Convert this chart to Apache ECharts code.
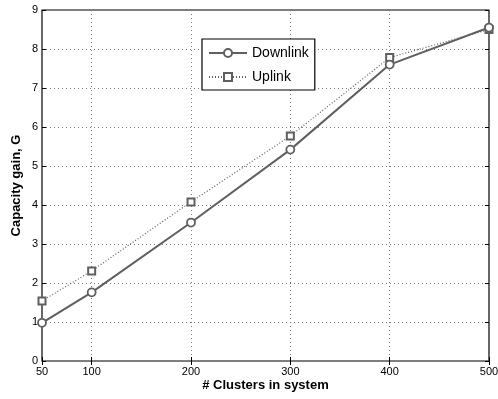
<!DOCTYPE html>
<html>
<head>
<meta charset="utf-8">
<script src="https://cdn.jsdelivr.net/npm/echarts@6/dist/echarts.min.js"></script>
<style>
  html, body { margin: 0; padding: 0; background: #fff; }
  #chart { width: 498px; height: 399px; }
</style>
</head>
<body>
<div id="chart"></div>
<script>
// data
var clusters = [50, 100, 200, 300, 400, 500];
var downlink = [0.98, 1.76, 3.55, 5.42, 7.6, 8.55];
var uplink = [1.54, 2.31, 4.08, 5.77, 7.78, 8.5];
var xTicks = [50, 100, 200, 300, 400, 500];

var chart = echarts.init(document.getElementById('chart'));
var gray = '#5f5f5f';
var font = 'Liberation Sans, Arial, sans-serif';

function pairs(xs, ys) {
  var out = [];
  for (var i = 0; i < xs.length; i++) out.push([xs[i], ys[i]]);
  return out;
}

var option = {
  animation: false,
  grid: {
    left: 42, right: 9, top: 10, bottom: 38,
    outerBoundsMode: 'none',
    containLabel: false,
    show: true, borderColor: '#000', borderWidth: 1.2,
    backgroundColor: 'transparent'
  },
  legend: {
    left: 202, top: 39,
    orient: 'vertical',
    padding: [7, 6, 6, 6],
    itemGap: 10,
    itemWidth: 38, itemHeight: 10,
    backgroundColor: '#fff',
    borderColor: '#000', borderWidth: 1.2,
    textStyle: { fontFamily: font, fontSize: 14, color: '#000' },
    data: ['Downlink', 'Uplink']
  },
  xAxis: [{
    type: 'value', min: 50, max: 500,
    name: '# Clusters in system', nameLocation: 'middle', nameGap: 18,
    nameMoveOverlap: false,
    nameTextStyle: { fontFamily: font, fontSize: 13, fontWeight: 'bold', color: '#000' },
    axisLine: { show: false },
    axisTick: { show: true, inside: true, length: 4, customValues: xTicks, lineStyle: { color: '#000' } },
    axisLabel: { customValues: xTicks, fontFamily: font, fontSize: 11, color: '#000', margin: 5 },
    splitLine: { show: true, lineStyle: { color: '#777', type: [1, 3], width: 1 } }
  }, {
    type: 'value', min: 50, max: 500, position: 'top',
    axisLine: { show: false },
    axisTick: { show: true, inside: true, length: 4, customValues: xTicks, lineStyle: { color: '#000' } },
    axisLabel: { show: false },
    splitLine: { show: false }
  }],
  yAxis: [{
    type: 'value', min: 0, max: 9, interval: 1,
    name: 'Capacity gain, G', nameLocation: 'middle', nameGap: 19,
    nameMoveOverlap: false,
    nameTextStyle: { fontFamily: font, fontSize: 13, fontWeight: 'bold', color: '#000' },
    axisLine: { show: false },
    axisTick: { show: true, inside: true, length: 4, lineStyle: { color: '#000' } },
    axisLabel: { fontFamily: font, fontSize: 11, color: '#000', margin: 4 },
    splitLine: { show: true, lineStyle: { color: '#777', type: [1, 3], width: 1 } }
  }, {
    type: 'value', min: 0, max: 9, interval: 1, position: 'right',
    axisLine: { show: false },
    axisTick: { show: true, inside: true, length: 4, lineStyle: { color: '#000' } },
    axisLabel: { show: false },
    splitLine: { show: false }
  }],
  series: [{
    name: 'Downlink', type: 'line',
    data: pairs(clusters, downlink),
    symbol: 'circle', symbolSize: 8,
    lineStyle: { color: gray, width: 2 },
    itemStyle: { color: '#fff', borderColor: gray, borderWidth: 1.8 },
    z: 3
  }, {
    name: 'Uplink', type: 'line',
    data: pairs(clusters, uplink),
    symbol: 'rect', symbolSize: 7,
    lineStyle: { color: gray, width: 1.2, type: [1, 2] },
    itemStyle: { color: '#fff', borderColor: gray, borderWidth: 2 },
    z: 2
  }]
};
chart.setOption(option);
</script>
</body>
</html>
